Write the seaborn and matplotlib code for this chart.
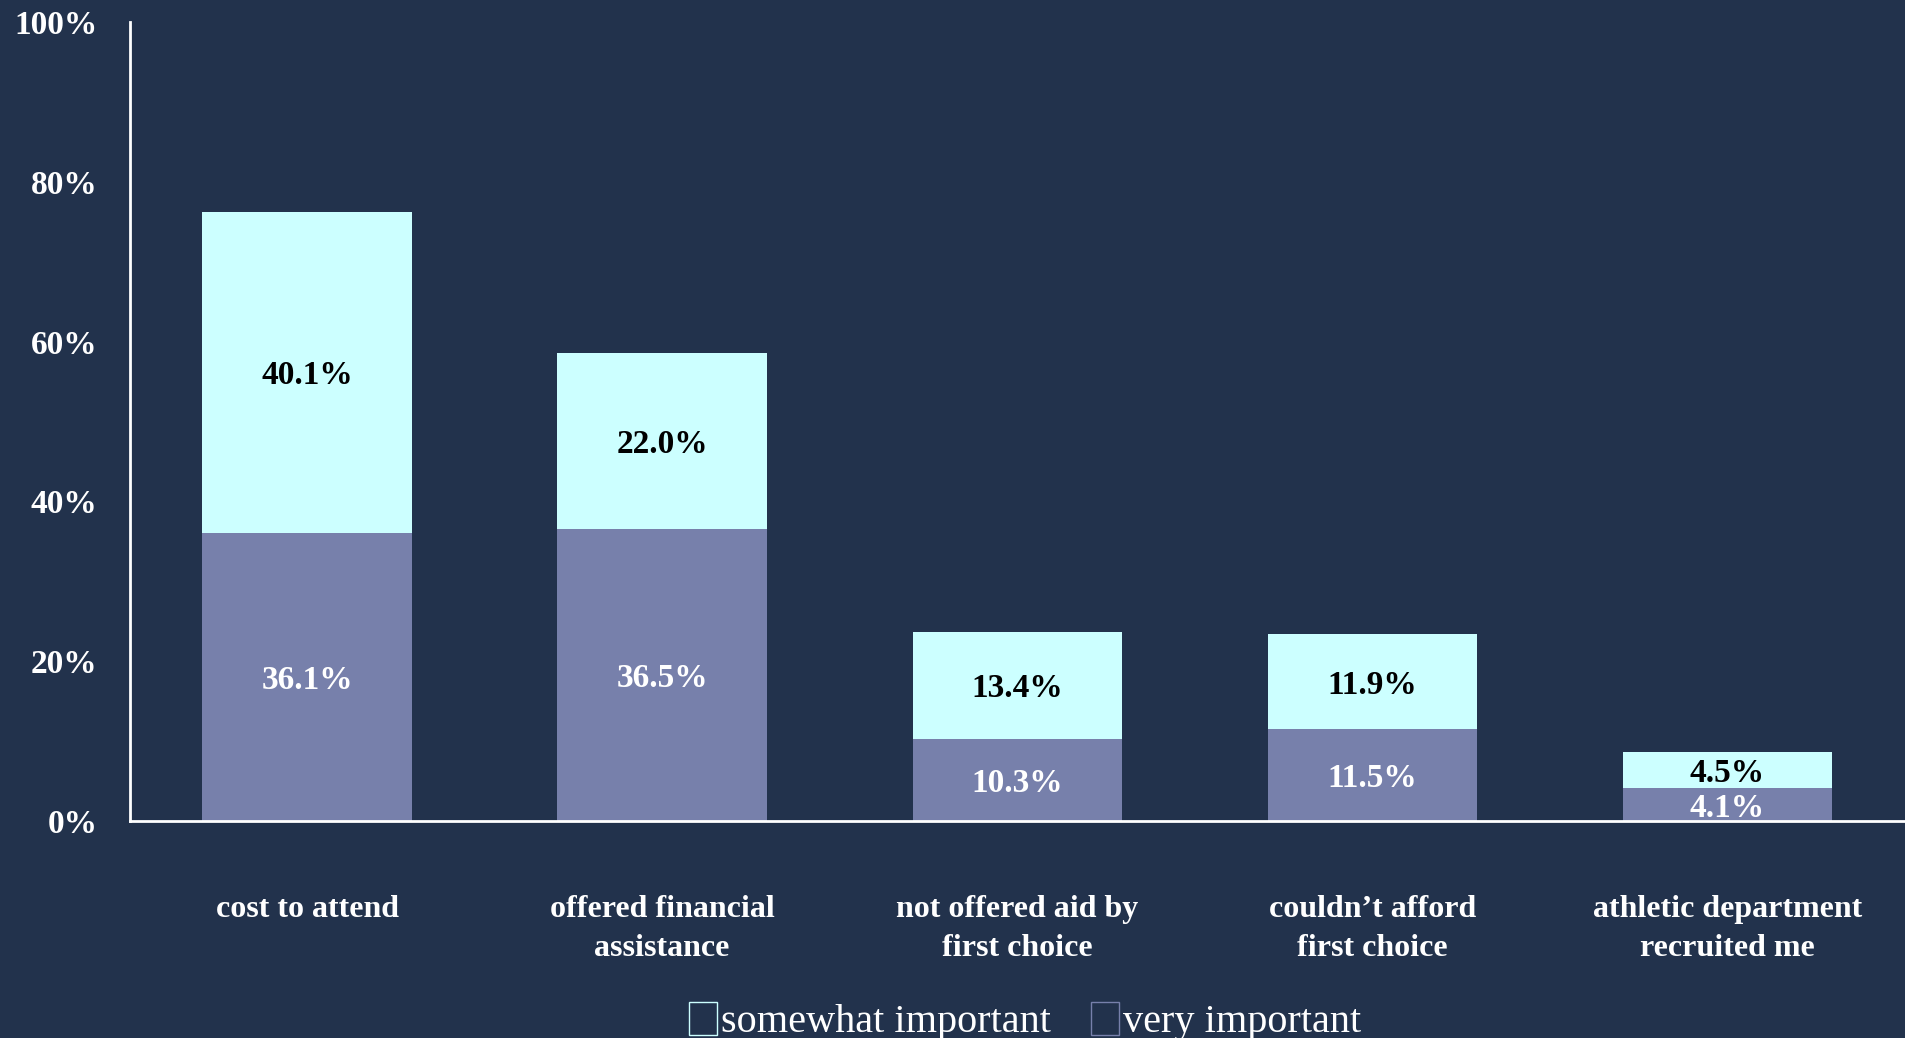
import matplotlib
matplotlib.use("Agg")
import matplotlib.pyplot as plt
from matplotlib.patches import Patch
import seaborn as sns
import pandas as pd

# chart data
categories = ["cost to attend", "offered financial\nassistance", "not offered aid by\nfirst choice",
              "couldn\u2019t afford\nfirst choice", "athletic department\nrecruited me"]
very_important = [36.1, 36.5, 10.3, 11.5, 4.1]
somewhat_important = [40.1, 22.0, 13.4, 11.9, 4.5]
y_ticks = [0, 20, 40, 60, 80, 100]

bg = "#22324c"
c_very = "#7780ab"
c_some = "#ccffff"

sns.set_theme(style="white")
plt.rcParams["font.family"] = ["Liberation Serif", "DejaVu Serif"]

df = pd.DataFrame({"category": categories, "very": very_important, "somewhat": somewhat_important})
df["total"] = df["very"] + df["somewhat"]

fig, ax = plt.subplots(figsize=(19.05, 10.38), dpi=100)
fig.patch.set_facecolor(bg)
ax.set_facecolor(bg)
fig.subplots_adjust(left=0.068, right=1.0, top=0.979, bottom=0.209)

# total first (somewhat on top), then very important overlaid from zero
sns.barplot(data=df, x="category", y="total", color=c_some, saturation=1, width=0.59,
            linewidth=0, ax=ax)
sns.barplot(data=df, x="category", y="very", color=c_very, saturation=1, width=0.59,
            linewidth=0, ax=ax)

for i, row in df.iterrows():
    ax.text(i, row["very"] / 2, f"{row['very']:.1f}%", ha="center", va="center_baseline",
            color="white", fontsize=24, fontweight="bold")
    ax.text(i, row["very"] + row["somewhat"] / 2, f"{row['somewhat']:.1f}%", ha="center",
            va="center_baseline", color="black", fontsize=24, fontweight="bold")

ax.set_xlim(-0.5, 4.5)
ax.set_ylim(0, 100)
ax.set_yticks(y_ticks)
ax.set_yticklabels([f"{t}%" for t in y_ticks])
ax.set_xlabel("")
ax.set_ylabel("")
ax.tick_params(axis="y", length=0, pad=23, labelsize=24, labelcolor="white")
ax.tick_params(axis="x", length=0, pad=53, labelsize=23, labelcolor="white")
for lab in ax.get_yticklabels() + ax.get_xticklabels():
    lab.set_fontweight("bold")
for lab in ax.get_xticklabels():
    lab.set_linespacing(1.45)

for s in ["top", "right"]:
    ax.spines[s].set_visible(False)
for s in ["left", "bottom"]:
    ax.spines[s].set_color("white")
    ax.spines[s].set_linewidth(2)

handles = [Patch(facecolor="none", edgecolor=c_some, label="somewhat important"),
           Patch(facecolor="none", edgecolor=c_very, label="very important")]
leg = fig.legend(handles=handles, loc="center", bbox_to_anchor=(0.538, 0.016), ncol=2,
                 frameon=False, fontsize=29, handlelength=0.7, handleheight=0.9,
                 handletextpad=0.1, columnspacing=1.0)
for t in leg.get_texts():
    t.set_color("white")

fig.savefig("out.png", dpi=100, facecolor=bg)
